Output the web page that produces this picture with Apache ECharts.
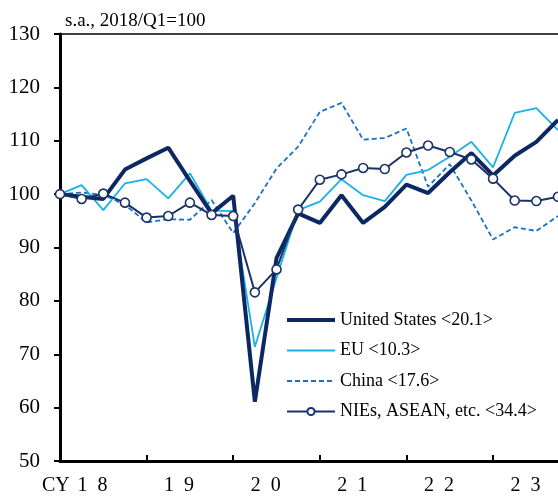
<!DOCTYPE html>
<html><head><meta charset="utf-8">
<script src="https://cdn.jsdelivr.net/npm/echarts@6/dist/echarts.min.js"></script>
<style>html,body{margin:0;padding:0;background:#fff}#c{width:558px;height:497px}</style>
</head><body><div id="c"></div><script>
const quarters = ['2018Q1','2018Q2','2018Q3','2018Q4','2019Q1','2019Q2','2019Q3','2019Q4',
  '2020Q1','2020Q2','2020Q3','2020Q4','2021Q1','2021Q2','2021Q3','2021Q4',
  '2022Q1','2022Q2','2022Q3','2022Q4','2023Q1','2023Q2','2023Q3','2023Q4'];
const yearText = {'2018':'1  8','2019':'1  9','2020':'2  0','2021':'2  1','2022':'2  2','2023':'2  3'};
const seriesNames = ['United States <20.1>','EU <10.3>','China <17.6>','NIEs, ASEAN, etc. <34.4>'];
const us    = [100, 99.5, 99.1, 104.6, 106.7, 108.7, 102.5, 96.4, 99.7, 61.1, 88.0, 96.4, 94.6, 99.8, 94.6, 97.6, 101.8, 100.2, 104.1, 107.7, 103.5, 107.2, 109.8, 113.9];
const eu    = [100, 101.7, 97.0, 102.0, 102.8, 99.2, 103.9, 96.9, 96.8, 71.4, 84.3, 97.0, 98.6, 102.8, 99.8, 98.7, 103.6, 104.5, 107.0, 109.8, 105.0, 115.2, 116.1, 112.0];
const china = [100, 100.3, 99.9, 98.0, 94.7, 95.3, 95.2, 98.9, 92.7, 98.3, 104.8, 108.9, 115.4, 117.1, 110.2, 110.5, 112.3, 101.4, 105.6, 98.8, 91.5, 93.8, 93.1, 95.9];
const nies  = [100, 99.1, 100.1, 98.4, 95.6, 95.9, 98.4, 96.1, 95.9, 81.6, 85.9, 97.1, 102.7, 103.7, 104.9, 104.7, 107.8, 109.1, 107.9, 106.5, 102.9, 98.8, 98.7, 99.5];

const FONT = "'Liberation Serif','Times New Roman',serif";
const C_US = '#0b2862', C_EU = '#19b1ea', C_CN = '#1a72c4', C_NI = '#1a3268';
const toPairs = arr => arr.map((v, i) => [i, v]);
const years = [...new Set(quarters.map(q => q.slice(0, 4)))];
const yearTicks = quarters.map((q, i) => q.endsWith('Q1') && i > 0 ? i : null).filter(v => v !== null);
const yearCenters = years.map(y => {
  const idx = quarters.map((q, i) => q.startsWith(y) ? i : null).filter(v => v !== null);
  return (idx[0] + idx[idx.length - 1]) / 2;
});
const centerToYear = {};
yearCenters.forEach((c, k) => centerToYear[c] = years[k]);

const chart = echarts.init(document.getElementById('c'), null, {renderer: 'canvas'});
chart.setOption({
  animation: false,
  backgroundColor: '#fff',
  title: {
    text: 's.a., 2018/Q1=100', left: 60, top: 7,
    textStyle: {fontFamily: FONT, fontSize: 19, fontWeight: 'normal', color: '#000'}
  },
  grid: {left: 60, right: 0, top: 34, bottom: 36, containLabel: false},
  legend: {
    data: [
      {name: seriesNames[0], itemStyle: {opacity: 0}, lineStyle: {width: 4, color: C_US}},
      {name: seriesNames[1], itemStyle: {opacity: 0}, lineStyle: {width: 1.8, color: C_EU}},
      {name: seriesNames[2], itemStyle: {opacity: 0}, lineStyle: {width: 1.8, color: C_CN, type: [5, 3]}},
      {name: seriesNames[3], lineStyle: {width: 2, color: C_NI}}
    ],
    orient: 'vertical', left: 285, top: 311, padding: 0,
    itemWidth: 48, itemHeight: 9, itemGap: 12.5,
    textStyle: {fontFamily: FONT, fontSize: 18, color: '#000'}
  },
  xAxis: [{
    type: 'value', min: 0, max: quarters.length - 1, position: 'bottom',
    axisLine: {show: true, lineStyle: {color: '#000', width: 3}},
    axisTick: {show: true, inside: true, length: 6, lineStyle: {color: '#000', width: 2}, customValues: yearTicks},
    axisLabel: {
      show: true, customValues: yearCenters, margin: 15,
      fontFamily: FONT, fontSize: 20, color: '#000',
      formatter: v => yearText[centerToYear[v]] || ''
    },
    splitLine: {show: false}
  }, {
    type: 'value', min: 0, max: quarters.length - 1, position: 'top',
    axisLine: {show: true, lineStyle: {color: '#000', width: 1.5}},
    axisTick: {show: false}, axisLabel: {show: false}, splitLine: {show: false}
  }],
  yAxis: {
    type: 'value', min: 50, max: 130, interval: 10,
    axisLine: {show: true, lineStyle: {color: '#000', width: 3}},
    axisTick: {show: true, length: 6, lineStyle: {color: '#000', width: 2}},
    axisLabel: {fontFamily: FONT, fontSize: 21, color: '#000', margin: 20},
    splitLine: {show: false}
  },
  graphic: [{
    type: 'text', left: 42, top: 476,
    style: {text: 'CY', font: '20px ' + FONT, fill: '#000'}
  }],
  series: [
    {name: seriesNames[2], type: 'line', data: toPairs(china), symbol: 'none', z: 2,
     lineStyle: {color: C_CN, width: 1.8, type: [5, 3]}, itemStyle: {color: C_CN}},
    {name: seriesNames[1], type: 'line', data: toPairs(eu), symbol: 'none', z: 3,
     lineStyle: {color: C_EU, width: 1.8}, itemStyle: {color: C_EU}},
    {name: seriesNames[0], type: 'line', data: toPairs(us), symbol: 'none', z: 4,
     lineStyle: {color: C_US, width: 4}, itemStyle: {color: C_US}},
    {name: seriesNames[3], type: 'line', data: toPairs(nies), symbol: 'circle', symbolSize: 9, z: 5,
     lineStyle: {color: C_NI, width: 2},
     itemStyle: {color: '#fff', borderColor: C_NI, borderWidth: 1.6}}
  ]
});
</script></body></html>
